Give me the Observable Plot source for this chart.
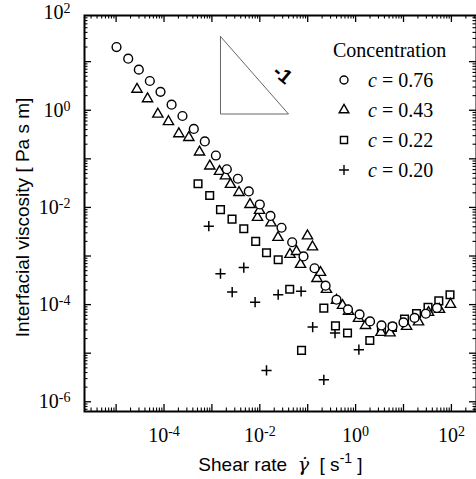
<!DOCTYPE html>
<html><head><meta charset="utf-8">
<script src="https://cdn.jsdelivr.net/npm/d3@7"></script>
<script src="https://cdn.jsdelivr.net/npm/@observablehq/plot@0.6"></script>
<style>
html,body{margin:0;padding:0;background:#fff;}
#wrap{position:relative;width:476px;height:479px;overflow:hidden;background:#fff;}
#legend{position:absolute;left:333px;top:35px;font-family:"Liberation Serif",serif;font-size:20px;line-height:30px;color:#000;}
#legend .row{display:flex;align-items:center;height:30px;}
#legend .row svg{flex:none;display:block;}
#legend .row span{margin-left:13px;}
</style></head><body><div id="wrap"></div>
<script>
// ---- data ----
const seriesNames = ["c = 0.76", "c = 0.43", "c = 0.22", "c = 0.20"];
const legendTitle = "Concentration";

const c076X = [1.02e-5, 1.79e-5, 2.98e-5, 5.06e-5, 8.45e-5, 1.44e-4, 2.43e-4, 4.19e-4, 7.11e-4, 1.21e-3, 2.05e-3, 3.48e-3, 5.89e-3, 1.0e-2, 1.67e-2, 2.84e-2, 4.74e-2, 8.17e-2, 0.139, 0.236, 0.399, 0.693, 1.21, 2.0, 3.47, 5.89, 10, 17.0, 29.2, 50.0];
const c076Y = [20.0, 11.5, 6.84, 4.0, 2.39, 1.30, 0.762, 0.412, 0.228, 0.117, 6.10e-2, 3.89e-2, 2.13e-2, 1.15e-2, 6.67e-3, 3.82e-3, 1.92e-3, 9.8e-4, 5.6e-4, 2.45e-4, 1.26e-4, 7.96e-5, 6.28e-5, 4.51e-5, 3.72e-5, 3.56e-5, 4.30e-5, 5.32e-5, 6.49e-5, 8.53e-5];

const c043X = [2.73e-5, 4.53e-5, 7.43e-5, 1.24e-4, 2.04e-4, 3.30e-4, 5.51e-4, 9.03e-4, 1.44e-3, 1.92e-3, 2.44e-3, 3.68e-3, 6.24e-3, 8.95e-3, 9.86e-3, 1.71e-2, 2.40e-2, 4.27e-2, 5.83e-2, 7.08e-2, 9.9e-2, 0.126, 0.156, 0.185, 0.246, 0.399, 0.533, 0.711, 1.15, 1.61, 3.39, 5.23, 11.6, 20.6, 33.3, 56.5, 95.7];
const c043Y = [2.70, 1.72, 0.830, 0.582, 0.328, 0.275, 0.138, 7.13e-2, 5.50e-2, 4.45e-2, 2.97e-2, 2.03e-2, 1.15e-2, 6.22e-3, 8.67e-3, 4.79e-3, 2.41e-3, 1.08e-3, 1.24e-3, 6.71e-4, 2.59e-3, 1.54e-3, 3.45e-4, 4.59e-4, 2.05e-4, 1.22e-4, 9.6e-5, 7.23e-5, 5.19e-5, 3.72e-5, 2.67e-5, 2.61e-5, 3.56e-5, 4.40e-5, 6.90e-5, 7.96e-5, 1.01e-4];

const c022X = [5.13e-4, 8.99e-4, 1.51e-3, 2.63e-3, 4.63e-3, 8.20e-3, 1.38e-2, 2.42e-2, 4.21e-2, 7.43e-2, 0.217, 0.380, 0.678, 1.98, 3.47, 5.89, 10.5, 18.7, 32.5, 54.6, 93.5];
const c022Y = [3.07e-2, 1.76e-2, 9.0e-3, 5.74e-3, 3.64e-3, 2.0e-3, 1.17e-3, 8.38e-4, 2.07e-4, 1.14e-5, 8.46e-5, 3.64e-5, 2.61e-5, 1.83e-5, 2.94e-5, 3.39e-5, 5.07e-5, 6.58e-5, 8.75e-5, 1.19e-4, 1.60e-4];

const c020X = [8.61e-4, 1.51e-3, 2.65e-3, 4.63e-3, 7.98e-3, 1.38e-2, 2.42e-2, 7.28e-2, 0.127, 0.217, 0.372, 1.17];
const c020Y = [4.12e-3, 4.32e-4, 1.81e-4, 5.77e-4, 1.12e-4, 4.42e-6, 1.60e-4, 1.88e-4, 3.44e-5, 2.84e-6, 2.59e-5, 1.18e-5];

// slope triangle annotation (data coordinates)
const slopeX = [1.51e-3, 1.51e-3, 3.97e-2, 1.51e-3];
const slopeY = [33, 0.837, 0.837, 33];
const slopeLabel = "-1";
const slopeLabelX = [0.0298];
const slopeLabelY = [5.45];

// ticks and titles
const xTickLabels = [1e-4, 1e-2, 1, 1e2];
const yTickLabels = [1e2, 1, 1e-2, 1e-4, 1e-6];
const xTitle = "Shear rate";
const yTitle = "Interfacial viscosity [ Pa s m]";

// ---- layout ----
const W = 476, H = 479, mL = 84, mR = 0, mT = 15, mB = 68;
const fw = W - mL - mR, fh = H - mT - mB;
const xDomain = [Math.pow(10, -5.66), Math.pow(10, 2.524)];
const yDomain = [Math.pow(10, -6.2), Math.pow(10, 1.95)];

function decadeTicks(domain) {
  const major = [], minor = [];
  const lo = Math.floor(Math.log10(domain[0])), hi = Math.ceil(Math.log10(domain[1]));
  for (let e = lo; e <= hi; e++) for (let k = 1; k < 10; k++) {
    const v = k * Math.pow(10, e);
    if (v < domain[0] || v > domain[1]) continue;
    (k === 1 ? major : minor).push(v);
  }
  return {major, minor};
}
const xt = decadeTicks(xDomain), yt = decadeTicks(yDomain);
const zip = (xs, ys) => xs.map((x, i) => ({x, y: ys[i]}));
const supFmt = d => "10^" + Math.round(Math.log10(d));
const majLen = 7, minLen = 3.5;

const plot = Plot.plot({
  width: W, height: H,
  marginLeft: mL, marginRight: mR, marginTop: mT, marginBottom: mB,
  x: {type: "log", domain: xDomain},
  y: {type: "log", domain: yDomain},
  style: {fontFamily: "Liberation Serif", background: "white", color: "black"},
  marks: [
    Plot.line(zip(slopeX, slopeY), {x: "x", y: "y", stroke: "#666", strokeWidth: 1}),
    Plot.text(zip(slopeLabelX, slopeLabelY), {x: "x", y: "y", text: () => slopeLabel, rotate: 40, fontSize: 20, fontWeight: "bold", fontFamily: "Liberation Sans"}),
    Plot.dot(zip(c020X, c020Y), {x: "x", y: "y", symbol: "plus", r: 3.4, stroke: "black", strokeWidth: 1.5}),
    Plot.dot(zip(c022X, c022Y), {x: "x", y: "y", symbol: "square", r: 4.3, stroke: "black", fill: "white", strokeWidth: 1.5}),
    Plot.dot(zip(c043X, c043Y), {x: "x", y: "y", symbol: "triangle", r: 3.8, stroke: "black", fill: "white", strokeWidth: 1.4}),
    Plot.dot(zip(c076X, c076Y), {x: "x", y: "y", symbol: "circle", r: 4.4, stroke: "black", fill: "white", strokeWidth: 1.4}),
    // inward ticks on all four sides
    Plot.ruleX(xt.major, {x: d => d, insetTop: fh - majLen, strokeWidth: 1.3}),
    Plot.ruleX(xt.major, {x: d => d, insetBottom: fh - majLen, strokeWidth: 1.3}),
    Plot.ruleX(xt.minor, {x: d => d, insetTop: fh - minLen, strokeWidth: 1.1}),
    Plot.ruleX(xt.minor, {x: d => d, insetBottom: fh - minLen, strokeWidth: 1.1}),
    Plot.ruleY(yt.major, {y: d => d, insetRight: fw - majLen, strokeWidth: 1.3}),
    Plot.ruleY(yt.major, {y: d => d, insetLeft: fw - majLen, strokeWidth: 1.3}),
    Plot.ruleY(yt.minor, {y: d => d, insetRight: fw - minLen, strokeWidth: 1.1}),
    Plot.ruleY(yt.minor, {y: d => d, insetLeft: fw - minLen, strokeWidth: 1.1}),
    Plot.frame({stroke: "black", strokeWidth: 2}),
    Plot.axisX(xTickLabels, {tickSize: 0, tickPadding: 16, tickFormat: supFmt, fontSize: 20, label: null}),
    Plot.axisY(yTickLabels, {tickSize: 0, tickPadding: 14, tickFormat: supFmt, fontSize: 20, label: null}),
    Plot.text([yTitle], {text: d => d, frameAnchor: "left", dx: -62, dy: 4, rotate: -90, textAnchor: "middle", lineAnchor: "middle", fontSize: 19, fontFamily: "Liberation Sans"}),
    Plot.text([xTitle], {text: d => d, frameAnchor: "bottom", dy: 53, textAnchor: "middle", lineAnchor: "middle", fontSize: 19, fontFamily: "Liberation Sans"})
  ]
});

// superscripts for tick labels and the x title
d3.select(plot).selectAll("text").each(function () {
  const t = this.textContent;
  const m = /^10\^(-?\d+)$/.exec(t);
  if (m) {
    this.textContent = "10";
    d3.select(this).append("tspan").attr("dy", -6).attr("font-size", 14).text(m[1]);
  } else if (t === xTitle) {
    const sel = d3.select(this).style("white-space", "pre");
    this.textContent = "";
    sel.append("tspan").text(xTitle + "  ");
    sel.append("tspan").attr("font-family", "DejaVu Serif").attr("font-style", "italic").attr("font-size", 19).text("\u03B3\u0307");
    sel.append("tspan").text("  [ s");
    sel.append("tspan").attr("dy", -8).attr("font-size", 14).text("-1");
    sel.append("tspan").attr("dy", 8).text(" ]");
  }
});

const wrap = document.getElementById("wrap");
wrap.appendChild(plot);

// legend
const legend = d3.select(wrap).append("div").attr("id", "legend");
legend.append("div").attr("class", "row").text(legendTitle);
const legendSymbols = [[d3.symbolCircle, 4.0, "white"], [d3.symbolTriangle, 3.6, "white"], [d3.symbolSquare, 4.0, "white"], [d3.symbolPlus, 3.3, "none"]];
seriesNames.forEach((name, i) => {
  const row = legend.append("div").attr("class", "row");
  const s = row.append("svg").attr("width", 22).attr("height", 30);
  const [type, r, fill] = legendSymbols[i];
  s.append("path").attr("transform", "translate(11,15)")
    .attr("d", d3.symbol(type, Math.PI * r * r)())
    .attr("fill", fill).attr("stroke", "black").attr("stroke-width", 1.4);
  const parts = name.split(" ");
  const span = row.append("span");
  span.append("i").text(parts[0]);
  span.append("tspan").text(" " + parts.slice(1).join(" "));
});
</script></body></html>
